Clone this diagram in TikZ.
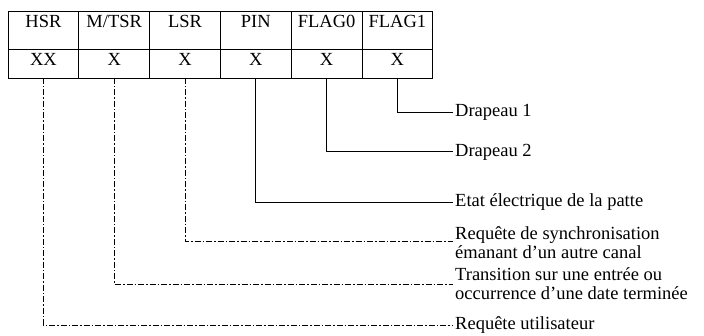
\documentclass[tikz,border=0pt]{standalone}
\usepackage{fontspec}
\setmainfont{Liberation Serif}
\usetikzlibrary{positioning}

\begin{document}
\begin{tikzpicture}[x=1pt, y=-1pt,
    cell/.style={draw, line width=0.7pt, minimum width=70.8pt, inner sep=0pt,
                 outer sep=0pt, text height=17pt, font=\fontsize{18.5}{19}\selectfont},
    head/.style={cell, text depth=21pt},
    bit/.style={cell, text depth=12pt},
    wire/.style={line width=0.7pt},
    dwire/.style={wire, dash pattern=on 6pt off 2pt on 1.5pt off 2pt},
    note/.style={anchor=base west, inner sep=0pt, align=left,
                 font=\fontsize{18.5}{19}\selectfont}
]
    \useasboundingbox (0,0) rectangle (704,336);

    % Register fields
    \node[head, anchor=north west] (hsr) at (8,11) {HSR};
    \node[head, right=0pt of hsr] (mtsr) {M/TSR};
    \node[head, right=0pt of mtsr] (lsr) {LSR};
    \node[head, right=0pt of lsr] (pin) {PIN};
    \node[head, right=0pt of pin] (flag0) {FLAG0};
    \node[head, right=0pt of flag0] (flag1) {FLAG1};

    % Bit values
    \node[bit, below=0pt of hsr] (xhsr) {XX};
    \node[bit, below=0pt of mtsr] (xmtsr) {X};
    \node[bit, below=0pt of lsr] (xlsr) {X};
    \node[bit, below=0pt of pin] (xpin) {X};
    \node[bit, below=0pt of flag0] (xflag0) {X};
    \node[bit, below=0pt of flag1] (xflag1) {X};

    % Meanings (base = last line)
    \node[note] (dflag1) at (455,117) {Drapeau 1};
    \node[note] (dflag0) at (455,157) {Drapeau 2};
    \node[note] (dpin) at (455,207) {Etat électrique de la patte};
    \node[note] (dlsr) at (455,259) {Requête de synchronisation\\émanant d’un autre canal};
    \node[note] (dmtsr) at (455,300) {Transition sur une entrée ou\\occurrence d’une date terminée};
    \node[note] (dhsr) at (455,330) {Requête utilisateur};

    \draw[wire] (xflag1.south) |- ([shift={(-2pt,5pt)}]dflag1.base west);
    \draw[wire] (xflag0.south) |- ([shift={(-2pt,6pt)}]dflag0.base west);
    \draw[wire] (xpin.south) |- ([shift={(-2pt,5pt)}]dpin.base west);
    \draw[dwire] (xlsr.south) |- ([shift={(-2pt,18pt)}]dlsr.base west);
    \draw[dwire] (xmtsr.south) |- ([shift={(-2pt,16pt)}]dmtsr.base west);
    \draw[dwire] (xhsr.south) |- ([shift={(-2pt,5pt)}]dhsr.base west);
\end{tikzpicture}
\end{document}
